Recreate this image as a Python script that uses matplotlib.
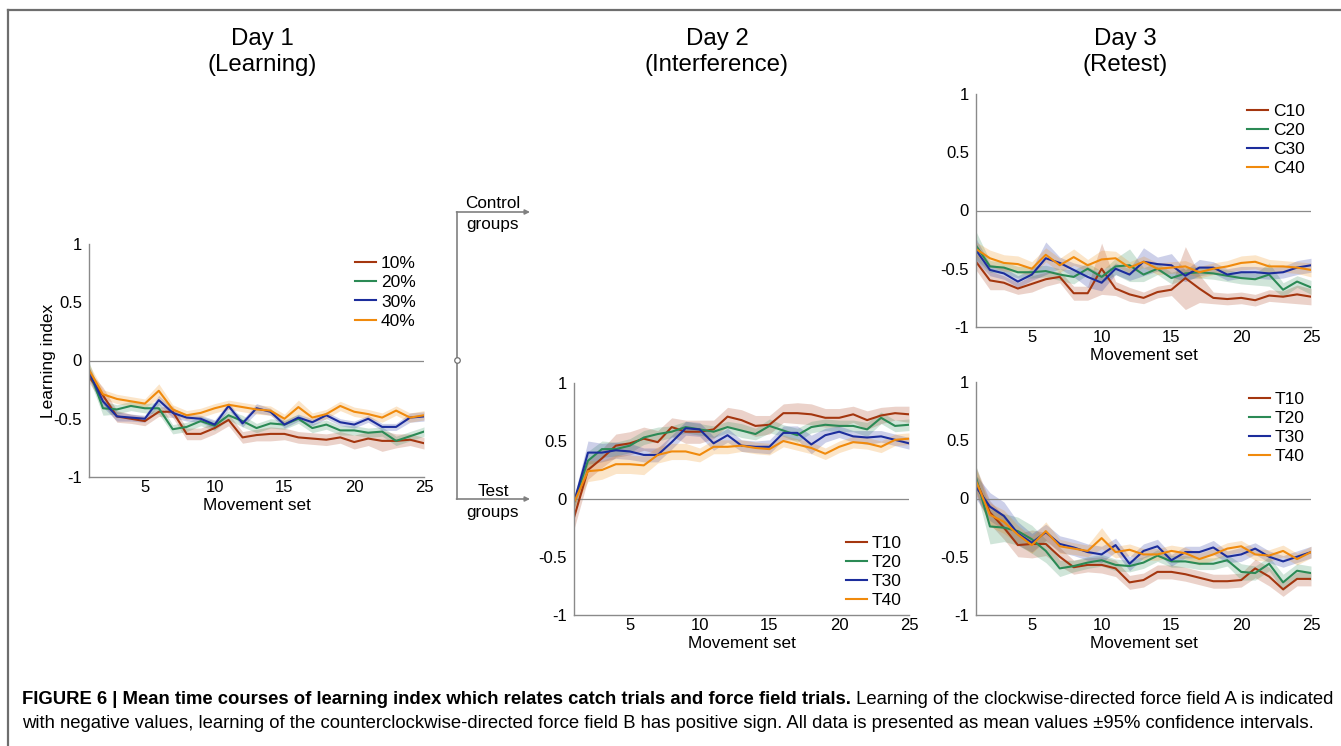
import numpy as np
import matplotlib.pyplot as plt
from matplotlib.lines import Line2D

plt.rcParams['font.family'] = ['Liberation Sans', 'DejaVu Sans']

W, H = 1341, 746
sets = np.arange(1, 26)
colors = ['#a4360f', '#2b8a55', '#1c2d9c', '#f08a0c']

# day 1 (learning)
d1_labels = ['10%', '20%', '30%', '40%']
d1_10 = [-0.14,-0.3,-0.48,-0.5,-0.52,-0.44,-0.44,-0.63,-0.63,-0.58,-0.51,-0.66,-0.64,-0.63,-0.63,-0.66,-0.67,-0.68,-0.66,-0.7,-0.67,-0.69,-0.69,-0.68,-0.71]
d1_20 = [-0.08,-0.41,-0.42,-0.39,-0.41,-0.41,-0.59,-0.57,-0.52,-0.56,-0.47,-0.52,-0.58,-0.54,-0.55,-0.5,-0.58,-0.55,-0.6,-0.6,-0.62,-0.61,-0.69,-0.65,-0.61]
d1_30 = [-0.1,-0.35,-0.48,-0.49,-0.5,-0.34,-0.45,-0.49,-0.5,-0.55,-0.39,-0.54,-0.41,-0.44,-0.55,-0.49,-0.53,-0.47,-0.53,-0.55,-0.5,-0.57,-0.57,-0.49,-0.48]
d1_40 = [-0.08,-0.29,-0.33,-0.35,-0.37,-0.26,-0.42,-0.47,-0.45,-0.41,-0.38,-0.4,-0.42,-0.43,-0.5,-0.4,-0.49,-0.46,-0.39,-0.44,-0.46,-0.49,-0.43,-0.49,-0.47]
d1_10_ci = [0.05,0.07,0.05,0.04,0.04,0.04,0.05,0.05,0.05,0.05,0.05,0.05,0.05,0.06,0.05,0.05,0.05,0.05,0.05,0.06,0.06,0.09,0.06,0.05,0.05]
d1_20_ci = [0.07,0.06,0.04,0.04,0.04,0.05,0.04,0.04,0.04,0.04,0.04,0.05,0.04,0.04,0.04,0.04,0.04,0.04,0.04,0.04,0.04,0.04,0.04,0.04,0.04]
d1_30_ci = [0.05,0.05,0.04,0.03,0.03,0.04,0.04,0.03,0.03,0.04,0.03,0.03,0.04,0.03,0.03,0.03,0.03,0.03,0.03,0.03,0.03,0.03,0.03,0.04,0.04]
d1_40_ci = [0.05,0.04,0.04,0.04,0.04,0.06,0.04,0.04,0.04,0.04,0.04,0.04,0.04,0.04,0.04,0.06,0.04,0.04,0.04,0.04,0.04,0.04,0.04,0.04,0.04]

# day 2 (interference), test groups
d2_labels = ['T10', 'T20', 'T30', 'T40']
d2_10 = [-0.16,0.25,0.35,0.46,0.48,0.52,0.49,0.62,0.58,0.58,0.6,0.71,0.68,0.63,0.64,0.74,0.74,0.73,0.7,0.7,0.73,0.68,0.72,0.74,0.73]
d2_20 = [-0.03,0.33,0.43,0.43,0.46,0.53,0.56,0.58,0.62,0.6,0.58,0.62,0.59,0.56,0.63,0.59,0.55,0.62,0.64,0.63,0.63,0.6,0.7,0.63,0.64]
d2_30 = [-0.03,0.4,0.4,0.42,0.41,0.38,0.38,0.49,0.61,0.6,0.48,0.55,0.46,0.45,0.45,0.57,0.57,0.47,0.55,0.58,0.54,0.53,0.54,0.51,0.48]
d2_40 = [-0.03,0.24,0.25,0.3,0.3,0.29,0.38,0.41,0.41,0.38,0.45,0.45,0.46,0.44,0.43,0.5,0.47,0.44,0.39,0.45,0.49,0.48,0.45,0.51,0.52]
d2_10_ci = [0.1,0.08,0.08,0.1,0.1,0.1,0.1,0.08,0.1,0.1,0.08,0.08,0.09,0.09,0.08,0.08,0.09,0.09,0.08,0.08,0.07,0.08,0.07,0.06,0.07]
d2_20_ci = [0.06,0.08,0.07,0.06,0.06,0.06,0.06,0.05,0.05,0.05,0.05,0.05,0.06,0.05,0.06,0.05,0.06,0.05,0.05,0.05,0.05,0.06,0.05,0.05,0.05]
d2_30_ci = [0.05,0.1,0.08,0.07,0.07,0.06,0.06,0.06,0.06,0.06,0.06,0.06,0.05,0.05,0.06,0.06,0.06,0.08,0.06,0.05,0.05,0.06,0.05,0.05,0.05]
d2_40_ci = [0.05,0.09,0.08,0.08,0.08,0.08,0.07,0.07,0.07,0.06,0.06,0.06,0.05,0.05,0.05,0.05,0.05,0.05,0.05,0.05,0.05,0.05,0.05,0.05,0.05]

# day 3 (retest), control groups
d3c_labels = ['C10', 'C20', 'C30', 'C40']
d3c_10 = [-0.44,-0.6,-0.62,-0.67,-0.63,-0.59,-0.57,-0.71,-0.71,-0.5,-0.67,-0.72,-0.75,-0.7,-0.68,-0.58,-0.67,-0.75,-0.76,-0.75,-0.77,-0.73,-0.74,-0.72,-0.74]
d3c_20 = [-0.3,-0.48,-0.49,-0.53,-0.53,-0.52,-0.55,-0.57,-0.5,-0.57,-0.48,-0.47,-0.55,-0.5,-0.58,-0.54,-0.53,-0.54,-0.56,-0.58,-0.59,-0.55,-0.68,-0.61,-0.66]
d3c_30 = [-0.34,-0.51,-0.54,-0.61,-0.55,-0.41,-0.45,-0.51,-0.57,-0.62,-0.5,-0.55,-0.44,-0.46,-0.47,-0.56,-0.49,-0.49,-0.55,-0.53,-0.53,-0.54,-0.53,-0.49,-0.47]
d3c_40 = [-0.33,-0.41,-0.45,-0.46,-0.5,-0.38,-0.47,-0.4,-0.47,-0.42,-0.41,-0.49,-0.44,-0.5,-0.49,-0.48,-0.53,-0.5,-0.48,-0.45,-0.44,-0.48,-0.48,-0.49,-0.51]
d3c_10_ci = [0.07,0.08,0.06,0.05,0.07,0.06,0.05,0.06,0.06,0.22,0.06,0.06,0.05,0.05,0.05,0.27,0.12,0.05,0.05,0.05,0.05,0.05,0.05,0.08,0.07]
d3c_20_ci = [0.12,0.05,0.05,0.05,0.05,0.05,0.05,0.06,0.05,0.05,0.07,0.14,0.06,0.05,0.05,0.05,0.05,0.05,0.05,0.05,0.05,0.1,0.06,0.05,0.06]
d3c_30_ci = [0.1,0.05,0.05,0.05,0.05,0.14,0.05,0.06,0.09,0.07,0.05,0.05,0.12,0.06,0.1,0.05,0.07,0.05,0.05,0.05,0.05,0.05,0.05,0.06,0.06]
d3c_40_ci = [0.06,0.07,0.07,0.07,0.06,0.06,0.06,0.07,0.05,0.08,0.06,0.05,0.05,0.05,0.05,0.05,0.05,0.05,0.05,0.06,0.06,0.06,0.05,0.05,0.06]

# day 3 (retest), test groups
d3t_labels = ['T10', 'T20', 'T30', 'T40']
d3t_10 = [0.15,-0.12,-0.25,-0.4,-0.39,-0.39,-0.5,-0.59,-0.57,-0.57,-0.6,-0.72,-0.7,-0.63,-0.63,-0.65,-0.68,-0.71,-0.71,-0.7,-0.6,-0.67,-0.78,-0.69,-0.69]
d3t_20 = [0.18,-0.24,-0.25,-0.28,-0.35,-0.45,-0.6,-0.58,-0.55,-0.53,-0.57,-0.58,-0.55,-0.49,-0.54,-0.54,-0.56,-0.56,-0.53,-0.63,-0.64,-0.56,-0.72,-0.62,-0.64]
d3t_30 = [0.1,-0.07,-0.15,-0.3,-0.38,-0.29,-0.39,-0.42,-0.46,-0.48,-0.4,-0.56,-0.45,-0.41,-0.53,-0.46,-0.46,-0.42,-0.5,-0.48,-0.43,-0.5,-0.54,-0.5,-0.46]
d3t_40 = [0.15,-0.14,-0.2,-0.31,-0.4,-0.28,-0.41,-0.43,-0.45,-0.34,-0.46,-0.44,-0.48,-0.48,-0.45,-0.47,-0.52,-0.48,-0.43,-0.41,-0.48,-0.49,-0.45,-0.52,-0.46]
d3t_10_ci = [0.12,0.1,0.1,0.1,0.12,0.1,0.08,0.06,0.06,0.07,0.07,0.06,0.06,0.06,0.06,0.06,0.06,0.06,0.06,0.06,0.08,0.08,0.06,0.06,0.06]
d3t_20_ci = [0.1,0.15,0.12,0.12,0.12,0.1,0.07,0.05,0.05,0.05,0.05,0.05,0.05,0.05,0.05,0.05,0.05,0.05,0.05,0.07,0.06,0.06,0.07,0.06,0.06]
d3t_30_ci = [0.1,0.12,0.12,0.1,0.08,0.07,0.07,0.07,0.07,0.07,0.06,0.06,0.06,0.06,0.05,0.05,0.05,0.06,0.05,0.06,0.05,0.05,0.05,0.05,0.05]
d3t_40_ci = [0.1,0.1,0.1,0.08,0.07,0.08,0.06,0.05,0.05,0.09,0.05,0.05,0.05,0.05,0.05,0.05,0.05,0.05,0.05,0.05,0.05,0.05,0.05,0.05,0.05]

fig = plt.figure(figsize=(W / 100, H / 100), dpi=100)

# overlay in pixel coords for the frame, titles, arrows and caption
ov = fig.add_axes([0, 0, 1, 1])
ov.set_xlim(0, W)
ov.set_ylim(H, 0)
ov.axis('off')


def rect(l, t, r, b):
    return [l / W, 1 - b / H, (r - l) / W, (b - t) / H]


def panel(box, means, cis, labels, leg_anchor, ylabel=False):
    ax = fig.add_axes(box)
    for m, c, col in zip(means, cis, colors):
        m = np.array(m)
        c = np.array(c)
        ax.fill_between(sets, m - c, m + c, color=col, alpha=0.22, lw=0)
    ax.axhline(0, color='#8a8a8a', lw=0.9)
    for m, col, lab in zip(means, colors, labels):
        ax.plot(sets, m, color=col, lw=1.5, label=lab)
    ax.set_xlim(1, 25)
    ax.set_ylim(-1, 1)
    ax.set_xticks([5, 10, 15, 20, 25])
    ax.set_yticks([-1, -0.5, 0, 0.5, 1])
    ax.set_yticklabels(['-1', '-0.5', '0', '0.5', '1'])
    ax.tick_params(length=0, labelsize=12)
    ax.tick_params(axis='y', pad=5)
    ax.tick_params(axis='x', pad=2)
    for s in ['top', 'right']:
        ax.spines[s].set_visible(False)
    for s in ['left', 'bottom']:
        ax.spines[s].set_color('#8a8a8a')
        ax.spines[s].set_linewidth(1.0)
    ax.set_xlabel('Movement set', fontsize=12.3, labelpad=2)
    if ylabel:
        ax.set_ylabel('Learning index', fontsize=12.5)
        ax.yaxis.set_label_coords(-0.1, 0.5)
    ax.legend(loc='upper left', bbox_to_anchor=leg_anchor, frameon=False,
              fontsize=12.5, handlelength=1.2, handletextpad=0.3,
              labelspacing=0.23, borderpad=0, borderaxespad=0)
    return ax


panel(rect(89, 244, 424, 477), [d1_10, d1_20, d1_30, d1_40],
      [d1_10_ci, d1_20_ci, d1_30_ci, d1_40_ci], d1_labels, (0.794, 0.948), ylabel=True)
panel(rect(574, 383, 909, 615), [d2_10, d2_20, d2_30, d2_40],
      [d2_10_ci, d2_20_ci, d2_30_ci, d2_40_ci], d2_labels, (0.812, 0.343))
panel(rect(976, 94, 1311, 327), [d3c_10, d3c_20, d3c_30, d3c_40],
      [d3c_10_ci, d3c_20_ci, d3c_30_ci, d3c_40_ci], d3c_labels, (0.809, 0.958))
panel(rect(976, 382, 1311, 615), [d3t_10, d3t_20, d3t_30, d3t_40],
      [d3t_10_ci, d3t_20_ci, d3t_30_ci, d3t_40_ci], d3t_labels, (0.815, 0.958))

# frame
ov.add_line(Line2D([8, W], [10, 10], color='#6e6e6e', lw=1.6))
ov.add_line(Line2D([8, 8], [10, H], color='#6e6e6e', lw=1.6))

# day titles
for x, a, b in [(262, 'Day 1', '(Learning)'), (717, 'Day 2', '(Interference)'),
                (1125, 'Day 3', '(Retest)')]:
    ov.text(x, 39, a, ha='center', va='center', fontsize=17.3)
    ov.text(x, 65, b, ha='center', va='center', fontsize=17.3)

# arrows to control / test groups
ov.add_line(Line2D([457, 457], [212, 499], color='#808080', lw=1.2))
for y in [212, 499]:
    ov.annotate('', xy=(530, y), xytext=(456.5, y),
                arrowprops=dict(arrowstyle='-|>', color='#808080', lw=1.2,
                                mutation_scale=7, shrinkA=0, shrinkB=0))
ov.plot([457], [360], marker='o', ms=4, mfc='white', mec='#707070', mew=0.9)
ov.text(493, 204, 'Control', ha='center', va='center', fontsize=12.3)
ov.text(493, 224, 'groups', ha='center', va='center', fontsize=12.3)
ov.text(493, 492, 'Test', ha='center', va='center', fontsize=12.3)
ov.text(493, 512, 'groups', ha='center', va='center', fontsize=12.3)

# caption
t1 = ov.text(22, 699, 'FIGURE 6 | Mean time courses of learning index which relates catch trials and force field trials.',
             ha='left', va='center', fontsize=13.3, fontweight='bold')
ov.annotate(' Learning of the clockwise-directed force field A is indicated',
            xy=(1, 0), xycoords=t1, ha='left', va='bottom', fontsize=13.3)
ov.text(22, 723, 'with negative values, learning of the counterclockwise-directed force field B has positive sign. '
        'All data is presented as mean values \u00b195% confidence intervals.',
        ha='left', va='center', fontsize=13.3)

fig.savefig('out.png', dpi=100)
